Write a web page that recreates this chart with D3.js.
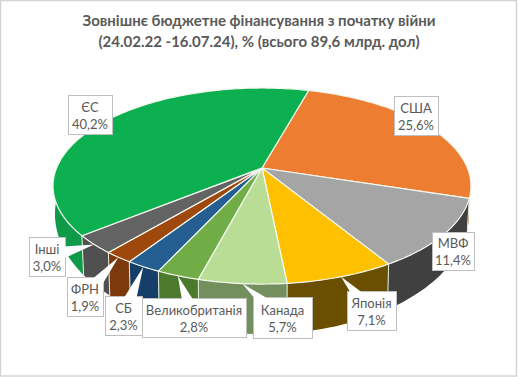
<!DOCTYPE html>
<html lang="uk">
  <head>
    <meta charset="UTF-8" />
    <title>Зовнішнє бюджетне фінансування</title>
    <script src="https://d3js.org/d3.v7.min.js"></script>
    <style>
      html, body { margin: 0; padding: 0; background: #fff; }
      svg { display: block; }
      text { font-family: Lato, "Open Sans", sans-serif; fill: #595959; }
      .chart-title { font-size: 15px; font-weight: bold; text-anchor: middle; }
      .label { font-size: 13px; text-anchor: middle; }
    </style>
  </head>
  <body>
    <svg id="pie" width="518" height="377"></svg>
    <script>
      const titleLines = [
        "Зовнішнє бюджетне фінансування з початку війни",
        "(24.02.22 -16.07.24), % (всього 89,6 млрд. дол)",
      ];
      const categories = ["США", "МВФ", "Японія", "Канада", "Великобританія", "СБ", "ФРН", "Інші", "ЄС"];
      const shares = [25.6, 11.4, 7.1, 5.7, 2.8, 2.3, 1.9, 3.0, 40.2];

      const topColors = ["#ed7d31", "#a5a5a5", "#ffc000", "#b9dd94", "#70ad47", "#255e91", "#9e480e", "#636363", "#0db050"];
      const wallColors = ["#a85820", "#404040", "#6b4f00", "#738f5e", "#4b7a2c", "#153f69", "#7c390b", "#505050", "#0f9a4a"];

      // label boxes as [left, top, right, bottom], same order as categories
      const labelBoxes = [
        [394, 96, 438, 135],
        [432, 232, 474, 270],
        [347, 291, 396, 330],
        [253, 297, 312, 338],
        [142, 298, 246, 337],
        [105, 296, 142, 335],
        [67, 277, 103, 316],
        [29, 237, 65, 276],
        [68, 95, 112, 134],
      ];

      const svg = d3.select("#pie");
      const pieStart = (15.5 * Math.PI) / 180;
      const persp = 0.184;

      // circle seen in perspective: angle -> screen point
      const project = (o) => (a) => {
        const u = Math.sin(a);
        const v = -Math.cos(a);
        const w = 1 - persp * v;
        return [o.cx + (o.sx * u) / w, o.cy + (o.sy * v) / w];
      };
      const topFace = project({ cx: 262, cy: 168, sx: 205.4, sy: 94.7 });
      const bottomFace = project({ cx: 262, cy: 192, sx: 203.5, sy: 115.9 });

      const color = d3.scaleOrdinal(categories, topColors);
      const wallColor = d3.scaleOrdinal(categories, wallColors);
      const ukLocale = d3.formatLocale({ decimal: ",", thousands: " ", grouping: [3], currency: ["", ""] });
      const fmt = ukLocale.format(".1f");

      const slices = d3
        .pie()
        .sort(null)
        .value((d, i) => shares[i])
        .startAngle(pieStart)
        .endAngle(pieStart + 2 * Math.PI)(categories);

      const line = d3.line();
      const arcAngles = (d) => {
        const n = Math.max(2, Math.ceil((d.endAngle - d.startAngle) / 0.02));
        return d3.range(n + 1).map((i) => d.startAngle + ((d.endAngle - d.startAngle) * i) / n);
      };

      // back slices first, so the front ones sit on top
      const depthOrder = slices
        .slice()
        .sort((a, b) => -Math.cos((a.startAngle + a.endAngle) / 2) - -Math.cos((b.startAngle + b.endAngle) / 2));

      svg
        .selectAll(".wall")
        .data(depthOrder)
        .enter()
        .append("path")
        .attr("class", "wall")
        .attr("fill", (d) => wallColor(d.data))
        .attr("d", (d) => {
          const angles = arcAngles(d);
          return line(angles.map(topFace).concat(angles.reverse().map(bottomFace))) + "Z";
        });

      // pale seams between the walls
      svg
        .selectAll(".seam")
        .data(slices)
        .enter()
        .append("path")
        .attr("class", "seam")
        .attr("stroke", "#e4efdc")
        .attr("stroke-width", 1)
        .attr("fill", "none")
        .attr("d", (d) => line([topFace(d.startAngle), bottomFace(d.startAngle)]));

      svg
        .selectAll(".slice")
        .data(slices)
        .enter()
        .append("path")
        .attr("class", "slice")
        .attr("fill", (d) => color(d.data))
        .attr("stroke", "#f4f8ee")
        .attr("stroke-width", 1.2)
        .attr("stroke-linejoin", "round")
        .attr("d", (d) => line([[262, 168]].concat(arcAngles(d).map(topFace))) + "Z");

      // labels with their callout wedges
      const labels = svg
        .selectAll(".label-group")
        .data(slices)
        .enter()
        .append("g")
        .attr("class", "label-group");

      labels
        .append("rect")
        .attr("x", (d) => labelBoxes[d.index][0] + 0.5)
        .attr("y", (d) => labelBoxes[d.index][1] + 0.5)
        .attr("width", (d) => labelBoxes[d.index][2] - labelBoxes[d.index][0])
        .attr("height", (d) => labelBoxes[d.index][3] - labelBoxes[d.index][1])
        .attr("fill", "#fff")
        .attr("stroke", "#bfbfbf");

      labels
        .append("path")
        .attr("fill", "#fff")
        .attr("d", (d) => {
          const b = labelBoxes[d.index];
          const mx = (b[0] + b[2]) / 2;
          const my = (b[1] + b[3]) / 2;
          const tip = topFace((d.startAngle + d.endAngle) / 2);
          const len = Math.hypot(tip[0] - mx, tip[1] - my);
          const px = (-(tip[1] - my) / len) * 9;
          const py = ((tip[0] - mx) / len) * 9;
          return line([tip, [mx + px, my + py], [mx - px, my - py]]) + "Z";
        });

      labels
        .append("text")
        .attr("class", "label")
        .attr("x", (d) => (labelBoxes[d.index][0] + labelBoxes[d.index][2]) / 2)
        .attr("y", (d) => (labelBoxes[d.index][1] + labelBoxes[d.index][3]) / 2 - 3)
        .text((d) => d.data);

      labels
        .append("text")
        .attr("class", "label")
        .attr("x", (d) => (labelBoxes[d.index][0] + labelBoxes[d.index][2]) / 2)
        .attr("y", (d) => (labelBoxes[d.index][1] + labelBoxes[d.index][3]) / 2 + 14)
        .text((d) => fmt(d.value) + "%");

      svg
        .selectAll(".chart-title")
        .data(titleLines)
        .enter()
        .append("text")
        .attr("class", "chart-title")
        .attr("x", 259)
        .attr("y", (d, i) => 26 + i * 21)
        .text((d) => d);

      // thin frame of the chart area
      svg
        .append("rect")
        .attr("x", 0.5)
        .attr("y", 0.5)
        .attr("width", 516)
        .attr("height", 375.5)
        .attr("fill", "none")
        .attr("stroke", "#d4d4d4")
        .attr("stroke-width", 1.5);
    </script>
  </body>
</html>
